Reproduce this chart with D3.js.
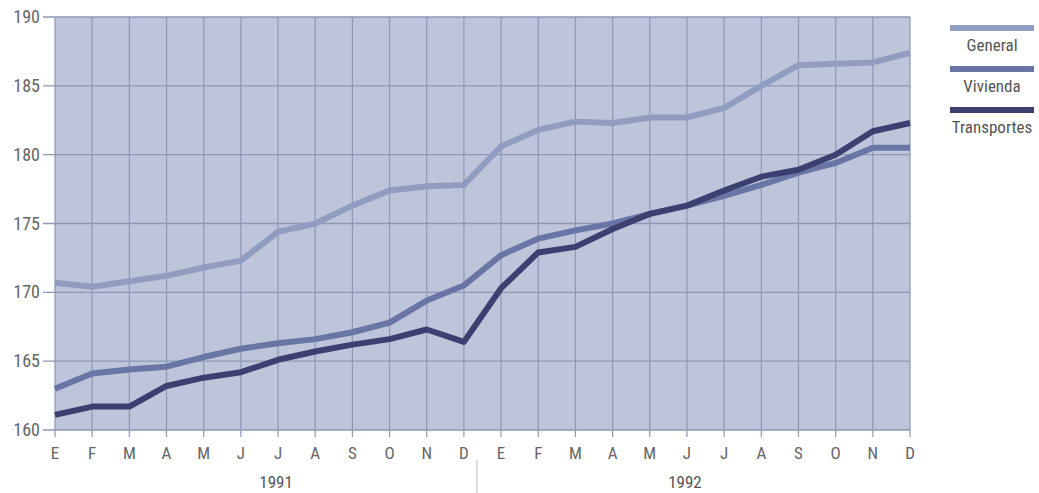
<!DOCTYPE html>
<html>
<head>
<meta charset="utf-8">
<script src="https://cdn.jsdelivr.net/npm/d3@7"></script>
<style>
  body { margin: 0; background: #fff; }
  svg { display: block; font-family: "Liberation Sans Narrow", "Roboto Condensed", "Liberation Sans", Arial, sans-serif; }
</style>
</head>
<body>
<div id="vis"></div>
<script>
const FRAME_WIDTH = 1039;
const FRAME_HEIGHT = 493;
const MARGINS = {left: 55, right: 129, top: 17, bottom: 63};

// data
const months = ["E","F","M","A","M","J","J","A","S","O","N","D",
                "E","F","M","A","M","J","J","A","S","O","N","D"];
const years = ["1991", "1992"];
const general = [170.7, 170.4, 170.8, 171.2, 171.8, 172.3, 174.4, 175.0, 176.3, 177.4, 177.7, 177.8,
                 180.6, 181.8, 182.4, 182.3, 182.7, 182.7, 183.4, 185.0, 186.5, 186.6, 186.7, 187.4];
const vivienda = [163.0, 164.1, 164.4, 164.6, 165.3, 165.9, 166.3, 166.6, 167.1, 167.8, 169.4, 170.5,
                  172.7, 173.9, 174.5, 175.0, 175.7, 176.3, 177.0, 177.8, 178.7, 179.4, 180.5, 180.5];
const transportes = [161.1, 161.7, 161.7, 163.2, 163.8, 164.2, 165.1, 165.7, 166.2, 166.6, 167.3, 166.4,
                     170.3, 172.9, 173.3, 174.6, 175.7, 176.3, 177.4, 178.4, 178.9, 180.0, 181.7, 182.3];
const seriesNames = ["General", "Vivienda", "Transportes"];
const yTicks = [160, 165, 170, 175, 180, 185, 190];

const COLORS = {General: "#909dc1", Vivienda: "#6875a5", Transportes: "#3c4071"};

const VIS_WIDTH = FRAME_WIDTH - MARGINS.left - MARGINS.right;
const VIS_HEIGHT = FRAME_HEIGHT - MARGINS.top - MARGINS.bottom;

const FRAME = d3.select("#vis")
  .append("svg")
    .attr("width", FRAME_WIDTH)
    .attr("height", FRAME_HEIGHT);

const X_SCALE = d3.scaleLinear()
  .domain([0, months.length - 1])
  .range([MARGINS.left, MARGINS.left + VIS_WIDTH]);

const Y_SCALE = d3.scaleLinear()
  .domain([160, 190])
  .range([MARGINS.top + VIS_HEIGHT, MARGINS.top]);

// background panel
FRAME.append("rect")
  .attr("x", X_SCALE(0))
  .attr("y", Y_SCALE(190))
  .attr("width", X_SCALE(months.length - 1) - X_SCALE(0))
  .attr("height", Y_SCALE(160) - Y_SCALE(190))
  .attr("fill", "#bec4da");

// vertical grid + ticks below
FRAME.append("g")
  .selectAll("line")
  .data(months)
  .enter()
  .append("line")
    .attr("x1", (d, i) => X_SCALE(i))
    .attr("x2", (d, i) => X_SCALE(i))
    .attr("y1", Y_SCALE(190))
    .attr("y2", Y_SCALE(160) + 7)
    .attr("stroke", "#8e97b5")
    .attr("stroke-width", 1.2);

// horizontal grid + ticks left
FRAME.append("g")
  .selectAll("line")
  .data(yTicks)
  .enter()
  .append("line")
    .attr("x1", X_SCALE(0) - 12)
    .attr("x2", X_SCALE(months.length - 1))
    .attr("y1", d => Y_SCALE(d))
    .attr("y2", d => Y_SCALE(d))
    .attr("stroke", "#8e97b5")
    .attr("stroke-width", 1.4);

// y labels
FRAME.append("g")
  .selectAll("text")
  .data(yTicks)
  .enter()
  .append("text")
    .attr("x", X_SCALE(0) - 15)
    .attr("y", d => Y_SCALE(d) + 6)
    .attr("text-anchor", "end")
    .attr("font-size", "18px")
    .attr("fill", "#666")
    .text(d => d);

// month labels
FRAME.append("g")
  .selectAll("text")
  .data(months)
  .enter()
  .append("text")
    .attr("x", (d, i) => X_SCALE(i))
    .attr("y", Y_SCALE(160) + 29)
    .attr("text-anchor", "middle")
    .attr("font-size", "17px")
    .attr("fill", "#666")
    .text(d => d);

// year labels (placed under mid-year months) and separator
const yearPos = [6, 17];
FRAME.append("g")
  .selectAll("text")
  .data(years)
  .enter()
  .append("text")
    .attr("x", (d, i) => X_SCALE(yearPos[i]) - 2)
    .attr("y", FRAME_HEIGHT - 5)
    .attr("text-anchor", "middle")
    .attr("font-size", "17px")
    .attr("fill", "#555")
    .text(d => d);

FRAME.append("line")
  .attr("x1", X_SCALE(11.35))
  .attr("x2", X_SCALE(11.35))
  .attr("y1", Y_SCALE(160) + 30)
  .attr("y2", FRAME_HEIGHT)
  .attr("stroke", "#bbb")
  .attr("stroke-width", 1);

// lines
const seriesData = {General: general, Vivienda: vivienda, Transportes: transportes};
const LINE = d3.line()
  .x((d, i) => X_SCALE(i))
  .y(d => Y_SCALE(d));

seriesNames.forEach(name => {
  FRAME.append("path")
    .datum(seriesData[name])
    .attr("d", LINE)
    .attr("fill", "none")
    .attr("stroke", COLORS[name])
    .attr("stroke-width", 6)
    .attr("stroke-linejoin", "round");
});

// legend
const LEG = FRAME.append("g").attr("transform", "translate(950, 28)");
seriesNames.forEach((name, i) => {
  LEG.append("rect")
    .attr("x", 0)
    .attr("y", i * 41 - 3)
    .attr("width", 84)
    .attr("height", 6)
    .attr("fill", COLORS[name]);
  LEG.append("text")
    .attr("x", 42)
    .attr("y", i * 41 + 23)
    .attr("text-anchor", "middle")
    .attr("font-size", "17px")
    .attr("fill", "#555")
    .text(name);
});
</script>
</body>
</html>
